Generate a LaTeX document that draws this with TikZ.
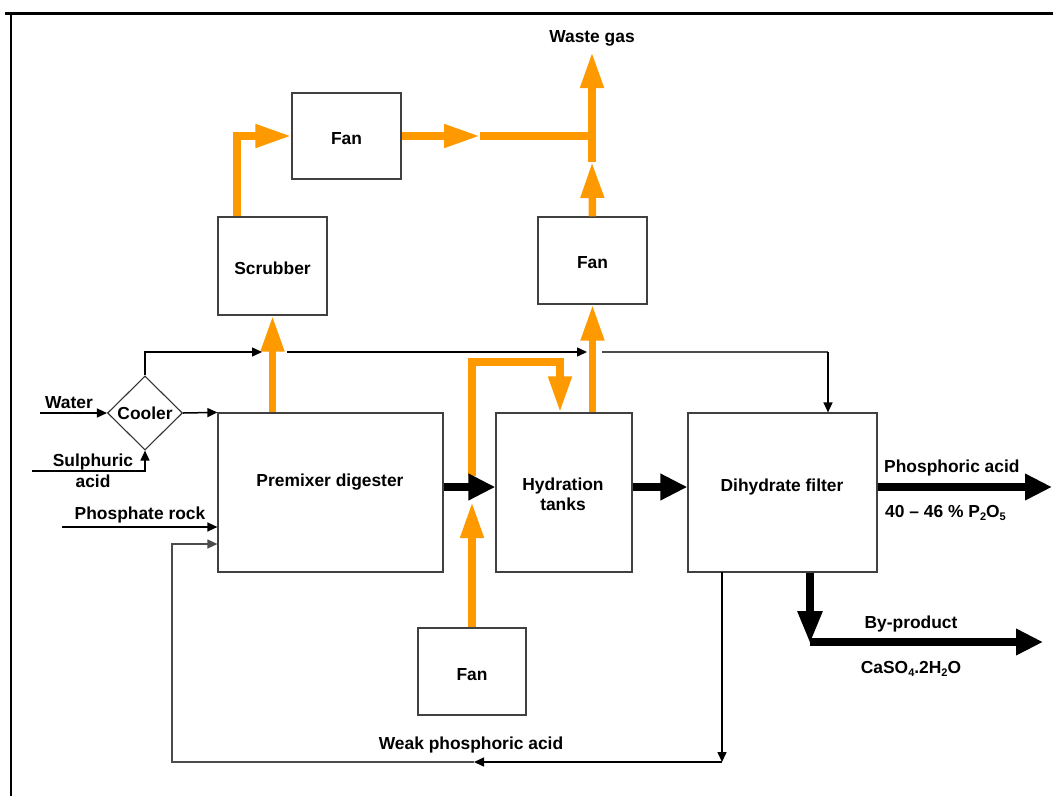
\documentclass[tikz,border=0pt]{standalone}
\usepackage{fontspec}
\setmainfont{Liberation Sans}
\usetikzlibrary{arrows.meta,shapes.geometric}
\definecolor{flow}{RGB}{255,153,0}
\newcommand{\chsub}[1]{\raisebox{-0.35ex}{\fontsize{11}{11}\selectfont #1}}
\begin{document}
\begin{tikzpicture}[x=1pt,y=-1pt,
  font=\fontsize{17.4}{20}\selectfont\bfseries,
  box/.style={draw=black!75,line width=1.2pt,rectangle,inner sep=0pt},
  lbl/.style={inner sep=0pt,align=center},
  gas/.style={draw=flow,line width=7.5pt,-{Triangle[length=36pt,width=22pt]}},
  gasline/.style={draw=flow,line width=7.5pt},
  bulk/.style={draw=black,line width=8.5pt,-{Triangle[length=27pt,width=25pt]}},
  bulkdown/.style={draw=black,line width=8.5pt,-{Triangle[length=33pt,width=23pt]}},
  thin/.style={draw=black,line width=1.5pt,-{Triangle[length=10pt,width=9pt]}},
  thinline/.style={draw=black!70,line width=1.2pt},
  thingray/.style={draw=black!70,line width=1.2pt,-{Triangle[length=10pt,width=9pt]}}
]
\useasboundingbox (0,0) rectangle (1053,796);

% frame
\draw[line width=3pt] (5,13) -- (1053,13);
\draw[line width=2.6pt] (11,11.5) -- (11,796);

% units
\node[box,minimum width=109pt,minimum height=86pt] (fanTop) at (346.5,136) {};
\node[lbl] (fanTopText) at (346.5,139) {Fan};
\node[box,minimum width=109pt,minimum height=98pt] (scrubber) at (272.5,266) {};
\node[lbl] (scrubberText) at (272.5,268) {Scrubber};
\node[box,minimum width=109pt,minimum height=87pt] (fanRight) at (592.5,260.5) {};
\node[lbl] (fanRightText) at (592.5,263) {Fan};
\node[box,minimum width=225pt,minimum height=159pt] (premixer) at (330.5,492.5) {};
\node[lbl] (premixerText) at (330,482) {Premixer digester};
\node[box,minimum width=136pt,minimum height=159pt] (hydration) at (564,492.5) {};
\node[lbl] (hydrationText) at (563,494) {Hydration\\tanks};
\node[box,minimum width=189pt,minimum height=159pt] (dihydrate) at (782.5,492.5) {};
\node[lbl] (dihydrateText) at (782,487) {Dihydrate filter};
\node[box,minimum width=108pt,minimum height=87pt] (fanBottom) at (472,671.5) {};
\node[lbl] (fanBottomText) at (472,675) {Fan};
\node[draw=black!80,line width=1.1pt,shape=diamond,inner sep=0pt,
      minimum width=75pt,minimum height=74pt] (cooler) at (145,413) {Cooler};

% text labels
\node[lbl] (wasteText) at (592,38) {Waste gas};
\node[lbl] (waterText) at (69,403) {Water};
\node[lbl,font=\fontsize{17.4}{21}\selectfont\bfseries] (sulphText) at (93,470.5) {Sulphuric\\acid};
\node[lbl] (rockText) at (140,515) {Phosphate rock};
\node[lbl,anchor=west] (acidText) at (884,468) {Phosphoric acid};
\node[lbl,anchor=west] (gradeText) at (885,513) {40 – 46 \% P\chsub{2}O\chsub{5}};
\node[lbl] (byText) at (911,624) {By-product};
\node[lbl] (gypsumText) at (911,669) {CaSO\chsub{4}.2H\chsub{2}O};
\node[lbl] (weakText) at (471,745) {Weak phosphoric acid};

% helper points
\coordinate (mainRow) at (0,487);
\coordinate (gasJoin) at (480,136);
\coordinate (gasTee) at (592,136);
\coordinate (stackMid) at (592,162);
\coordinate (stackTop) at (592,52);
\coordinate (loopStart) at (472,476);
\coordinate (loopTop) at (560,362);
\coordinate (airTip) at (472,502);
\coordinate (productEnd) at (1052,487);
\coordinate (byCorner) at (810,642);
\coordinate (byEnd) at (1043,642);
\coordinate (waterStart) at (40,413);
\coordinate (sulphStart) at (32,471);
\coordinate (rockStart) at (62,527);
\coordinate (ventA) at (262,352);
\coordinate (ventB) at (287,352);
\coordinate (ventC) at (587,352);
\coordinate (ventD) at (602,352);
\coordinate (ventE) at (828,352);
\coordinate (weakTop) at (722,572);
\coordinate (weakCorner) at (722,762);
\coordinate (weakMid) at (474,762);
\coordinate (weakLeft) at (172,762);
\coordinate (weakUp) at (172,544);

% gas handling (orange)
\draw[gas] ([xshift=-35.5pt]scrubber.north) |- (fanTop.west);
\draw[gas] (fanTop.east) -- (gasJoin);
\draw[gasline] (gasJoin) -- ([xshift=3.75pt]gasTee);
\draw[gas] (fanRight.north) -- (stackMid);
\draw[gas] (stackMid) -- (stackTop);
\draw[gas] (premixer.north -| scrubber.south) -- (scrubber.south);
\draw[gas] (hydration.north -| fanRight.south) -- (fanRight.south);
\draw[gas] (loopStart) |- (loopTop) -- (loopTop |- hydration.north);
\draw[gas] (fanBottom.north) -- (airTip);

% slurry and products (thick black)
\draw[bulk] (premixer.east |- mainRow) -- (hydration.west |- mainRow);
\draw[bulk] (hydration.east |- mainRow) -- (dihydrate.west |- mainRow);
\draw[bulk] (dihydrate.east |- mainRow) -- (productEnd);
\draw[bulkdown] (dihydrate.south -| byCorner) -- ([yshift=-2pt]byCorner);
\draw[bulk] (byCorner) -- (byEnd);

% feeds
\draw[thin] (waterStart) -- (cooler.west);
\draw[thin] (sulphStart) -| (cooler.south);
\draw[thin] (cooler.east) -- (premixer.north west);
\draw[thin] (rockStart) -- (premixer.west |- rockStart);
\draw[thin] (cooler.north) |- (ventA);
\draw[thin] (ventB) -- (ventC);
\draw[thinline] (ventD) -- (ventE);
\draw[thin] (ventE) -- (ventE |- dihydrate.north);

% weak acid recycle
\draw[thin] (weakTop) -- (weakCorner);
\draw[thin] (weakCorner) -- (weakMid);
\draw[thingray] (weakMid) -- (weakLeft) -- (weakUp) -- (premixer.west |- weakUp);
\end{tikzpicture}
\end{document}
